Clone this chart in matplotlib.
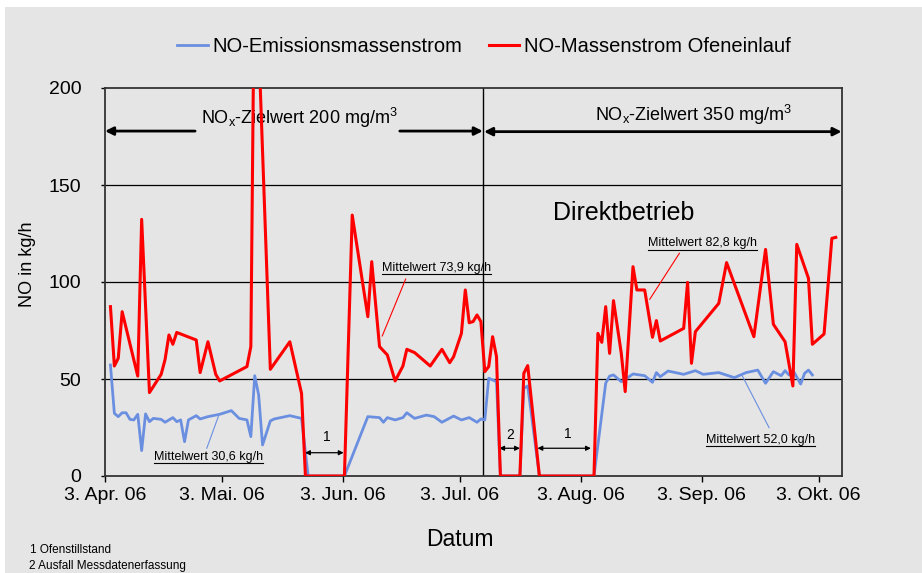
import numpy as np
import matplotlib
matplotlib.use("Agg")
import matplotlib.pyplot as plt
import matplotlib.dates as mdates
from matplotlib.lines import Line2D
from matplotlib.patches import Rectangle

plt.rcParams['font.family'] = ['Liberation Sans', 'DejaVu Sans']
plt.rcParams['mathtext.fontset'] = 'custom'
plt.rcParams['mathtext.rm'] = 'Liberation Sans'
plt.rcParams['mathtext.it'] = 'Liberation Sans'

START = '2006-04-03'

# ---- data (day offsets from START, values in kg/h) ----
red_days = [1.4, 2.4, 3.4, 4.4, 8.4, 9.4, 11.4, 14.4, 15.4, 16.4, 17.4, 18.4, 23.4, 24.4,
            26.4, 28.4, 29.4, 36.4, 37.4, 38.4, 42.4, 47.4, 50.4, 51.4, 61.4, 63.4, 67.4,
            68.4, 70.4, 72.4, 74.4, 76.4, 77.4, 79.4, 83.4, 86.4, 88.4, 89.4, 91.4, 92.4,
            93.4, 94.4, 95.4, 96.4, 97.4, 98.4, 99.4, 100.4, 101.4, 106.4, 107.4, 108.4,
            111.4, 125.4, 126.4, 127.4, 128.4, 129.4, 130.4, 132.4, 133.4, 135.4, 136.4,
            138.4, 140.4, 141.4, 142.4, 148.4, 149.4, 150.4, 151.4, 157.4, 159.4, 166.4,
            169.4, 171.4, 174.4, 176.4, 177.4, 180.4, 181.4, 184.4, 186.4, 187.4]
red_vals = [87.3, 56.7, 60.7, 84.7, 51.5, 132.3, 43.0, 52.4, 60.0, 72.7, 67.9, 74.0, 70.1, 53.3,
            69.2, 52.4, 49.0, 56.4, 66.7, 280.0, 55.0, 69.2, 42.6, 0.0, 0.0, 134.5, 82.1,
            110.5, 66.7, 62.4, 49.0, 56.7, 65.3, 63.6, 56.7, 65.3, 58.4, 61.5, 73.5, 95.9,
            79.0, 79.6, 83.0, 79.6, 53.8, 56.4, 71.8, 61.5, 0.0, 0.0, 52.9, 56.9,
            0.0, 0.0, 73.5, 68.9, 87.3, 63.2, 90.4, 63.2, 43.5, 107.9, 95.9,
            95.9, 71.5, 80.1, 69.6, 76.1, 99.8, 58.1, 74.4, 89.0, 110.0, 71.8,
            116.8, 78.2, 69.2, 46.4, 119.4, 101.9, 67.9, 73.2, 122.5, 123.0]

blue_days = [1.4, 2.4, 3.4, 4.4, 5.4, 6.4, 7.4, 8.4, 9.4, 10.4, 11.4, 12.4, 14.4, 15.4, 17.4,
             18.4, 19.4, 20.4, 21.4, 23.4, 24.4, 26.4, 29.4, 32.4, 34.4, 36.4, 37.4, 38.4,
             39.4, 40.4, 42.4, 43.4, 47.4, 50.4, 52.1, 61.4, 67.4, 70.4, 71.4, 72.4, 74.4,
             76.4, 77.4, 79.4, 82.4, 84.4, 86.4, 89.4, 91.4, 93.4, 95.4, 96.4, 97.4, 98.4,
             99.4, 100.4, 101.4, 106.4, 107.4, 108.4, 111.4, 125.4, 128.4, 129.4, 130.4,
             132.4, 133.4, 135.4, 138.4, 140.4, 141.4, 142.4, 144.4, 148.4, 151.4, 153.4,
             157.4, 161.4, 164.4, 167.4, 169.4, 171.4, 173.4, 174.4, 175.4, 176.4, 178.4,
             179.4, 180.4, 181.4]
blue_vals = [57.2, 32.3, 30.6, 32.6, 32.6, 29.2, 28.9, 31.8, 13.1, 32.0, 28.0, 29.7, 29.2, 27.7, 30.1,
             28.0, 28.9, 17.7, 28.9, 31.1, 29.4, 30.6, 31.8, 33.7, 29.7, 28.9, 20.3, 51.7,
             41.8, 16.0, 28.4, 29.4, 31.1, 29.7, 0.0, 0.0, 30.6, 30.1, 27.7, 30.1, 28.9,
             30.1, 32.6, 29.7, 31.4, 30.6, 27.7, 30.9, 28.9, 30.1, 27.7, 29.4, 28.9, 50.4,
             49.5, 48.6, 0.0, 0.0, 45.2, 46.4, 0.0, 0.0, 47.8, 51.5, 52.1,
             48.6, 49.8, 52.6, 51.7, 48.3, 53.3, 51.2, 54.1, 52.4, 54.3, 52.4,
             53.3, 50.7, 53.3, 54.6, 47.8, 53.8, 51.7, 54.3, 52.1, 54.6, 47.4,
             52.9, 54.6, 52.1]

series_names = ['NO-Emissionsmassenstrom', 'NO-Massenstrom Ofeneinlauf']
tick_dates = ['2006-04-03', '2006-05-03', '2006-06-03', '2006-07-03',
              '2006-08-03', '2006-09-03', '2006-10-03']
tick_labels = ['3. Apr. 06', '3. Mai. 06', '3. Jun. 06', '3. Jul. 06',
               '3. Aug. 06', '3. Sep. 06', '3. Okt. 06']
mean_labels = ['Mittelwert 30,6 kg/h', 'Mittelwert 73,9 kg/h',
               'Mittelwert 82,8 kg/h', 'Mittelwert 52,0 kg/h']
footnotes = ['1 Ofenstillstand', '2 Ausfall Messdatenerfassung']

# ---- styling ----
BG = '#e5e5e5'
BLUE = '#6b8fe0'
RED = '#ff0000'

t0 = mdates.date2num(np.datetime64(START))
def X(d):
    return t0 + np.asarray(d, dtype=float)

fig = plt.figure(figsize=(9.22, 5.73), dpi=100, facecolor='white')
fig.add_artist(Rectangle((5 / 922, 0), 1, 1 - 7 / 573, transform=fig.transFigure,
                         facecolor=BG, edgecolor='none', zorder=-10))
ax = fig.add_axes([105 / 922, 1 - 476 / 573, 737 / 922, 388 / 573])
ax.set_facecolor(BG)

for ypos in [50, 100, 150]:
    ax.axhline(ypos, color='black', lw=0.9, zorder=1)

lb, = ax.plot(X(blue_days), blue_vals, color=BLUE, lw=2.0, zorder=3, label=series_names[0])
lr, = ax.plot(X(red_days), red_vals, color=RED, lw=2.2, zorder=4, label=series_names[1])

ax.set_xlim(t0, t0 + 189)
ax.set_ylim(0, 200)
ax.set_yticks([0, 50, 100, 150, 200])
ax.set_xticks([mdates.date2num(np.datetime64(d)) for d in tick_dates])
ax.set_xticklabels(tick_labels)
ax.tick_params(axis='x', labelsize=14, length=4, width=1, pad=4, direction='out')
ax.tick_params(axis='y', labelsize=14, length=3, width=1, pad=14, direction='out')
for s in ax.spines.values():
    s.set_color('#333333')
    s.set_linewidth(1.3)

ax.set_xlabel('Datum', fontsize=16.5)
ax.xaxis.set_label_coords((459.6 - 105) / 737, (476 - 528) / 388)
ax.set_ylabel('NO in kg/h', fontsize=13)
ax.yaxis.set_label_coords((36 - 105) / 737, (476 - 264) / 388)

fig.legend(handles=[lb, lr], loc='center', bbox_to_anchor=(484 / 922, 1 - 46.7 / 573),
           ncol=2, frameon=False, fontsize=14.5, handlelength=1.5, handletextpad=0.25,
           columnspacing=1.3, borderpad=0)

# separation line between target values
ax.axvline(X(97.0), color='black', lw=1.0, zorder=2)

# target value arrows
arr = dict(arrowstyle='-|>', color='black', lw=2.0, mutation_scale=12, shrinkA=0, shrinkB=0)
ax.annotate('', xy=(X(0), 177.8), xytext=(X(23.1), 177.8), arrowprops=arr, annotation_clip=False)
ax.annotate('', xy=(X(96.9), 177.8), xytext=(X(75.6), 177.8), arrowprops=arr)
ax.annotate('', xy=(X(188.9), 177.5), xytext=(X(97.2), 177.5),
            arrowprops=dict(arr, arrowstyle='<|-|>'), annotation_clip=False)
ax.text(X(24.6), 181.5, r'NO$_\mathregular{x}$-Zielwert 200 mg/m$^\mathregular{3}$',
        fontsize=13, ha='left', va='baseline')
ax.text(X(125.6), 183.0, r'NO$_\mathregular{x}$-Zielwert 350 mg/m$^\mathregular{3}$',
        fontsize=13, ha='left', va='baseline')
ax.text(X(115.0), 132.0, 'Direktbetrieb', fontsize=18, ha='left', va='baseline')

# mean value labels with pointer lines
mean_specs = [
    (mean_labels[0], 12.6, 9.9, BLUE, (26.1, 14.3), (29.05, 30.6)),
    (mean_labels[1], 71.1, 107.4, RED, (77.1, 101.5), (71.1, 72.2)),
    (mean_labels[2], 139.2, 120.0, RED, (147.3, 114.8), (139.7, 91.1)),
    (mean_labels[3], 154.1, 18.6, BLUE, (170.3, 24.9), (163.3, 52.1)),
]
mean_texts = []
for txt, tx, ty, col, p0, p1 in mean_specs:
    ax.plot(X([p0[0], p1[0]]), [p0[1], p1[1]], color=col, lw=0.8, zorder=5)
    mean_texts.append(ax.text(X(tx), ty, txt, fontsize=9, ha='left', va='center', zorder=6))

# outage arrows
small = dict(arrowstyle='<|-|>', color='black', lw=0.9, mutation_scale=7, shrinkA=0, shrinkB=0)
for a, b, yv, lab, tx, ty in [(51.3, 61.2, 12.0, '1', 56.8, 20.3),
                               (101.1, 106.4, 14.3, '2', 104.0, 21.1),
                               (110.9, 124.6, 14.3, '1', 118.8, 21.6)]:
    ax.annotate('', xy=(X(b), yv), xytext=(X(a), yv), arrowprops=small)
    ax.text(X(tx), ty, lab, fontsize=10, ha='center', va='center')

fig.text(30 / 922, 1 - 550 / 573, footnotes[0], fontsize=8.5, ha='left', va='center')
fig.text(29 / 922, 1 - 566 / 573, footnotes[1], fontsize=8.5, ha='left', va='center')

# underline the mean labels
fig.canvas.draw()
inv = fig.transFigure.inverted()
for t in mean_texts:
    bb = t.get_window_extent()
    (x0, y0) = inv.transform((bb.x0, bb.y0 - 0.5))
    (x1, _) = inv.transform((bb.x1, bb.y0))
    fig.add_artist(Line2D([x0, x1], [y0, y0], transform=fig.transFigure,
                          color='black', lw=0.8))

fig.savefig('out.png', dpi=100, facecolor=fig.get_facecolor())
